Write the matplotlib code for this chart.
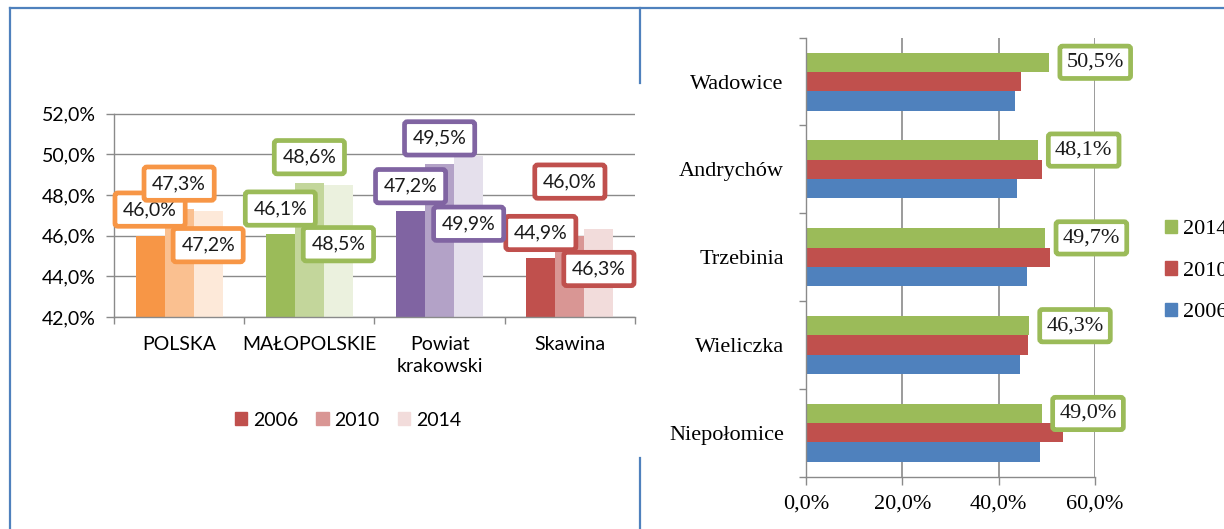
import matplotlib
matplotlib.use("Agg")
import matplotlib.pyplot as plt
from matplotlib.lines import Line2D
from matplotlib.patches import Patch
import numpy as np

# turnout by area, three elections
areas = ["POLSKA", "MAŁOPOLSKIE", "Powiat\nkrakowski", "Skawina"]
years = ["2006", "2010", "2014"]
area_2006 = [46.0, 46.1, 47.2, 44.9]
area_2010 = [47.3, 48.6, 49.5, 46.0]
area_2014 = [47.2, 48.5, 49.9, 46.3]
area_ticks = [42, 44, 46, 48, 50, 52]

# turnout in neighbouring towns
towns = ["Wadowice", "Andrychów", "Trzebinia", "Wieliczka", "Niepołomice"]
town_2006 = [43.3, 43.8, 45.8, 44.5, 48.6]
town_2010 = [44.6, 48.9, 50.6, 46.1, 53.4]
town_2014 = [50.5, 48.1, 49.7, 46.3, 49.0]
town_ticks = [0, 20, 40, 60]

# one colour family per area (dark -> light by year)
shades = [
    ["#F79646", "#FAC090", "#FDE9D9"],
    ["#9BBB59", "#C3D69B", "#EBF1DE"],
    ["#8064A2", "#B3A2C7", "#E5E0EC"],
    ["#C0504D", "#D99694", "#F2DCDB"],
]
# vertical label offsets in pixels from the bar top
label_dy = [
    [26, 25, 25, 25],
    [25.5, 25.5, 26, 54],
    [-34, -59.5, -67.5, -39.5],
]
GRID = "#8A8A8A"
BORDER = "#4F81BD"


def pct(v):
    return f"{v:.1f}%".replace(".", ",")


W, H = 1224, 529
fig = plt.figure(figsize=(W / 100, H / 100), dpi=100)

# ---- left: grouped columns ----
sans = "Lato"
fs = 14
ax = fig.add_axes([114 / W, 1 - 317 / H, (635 - 114) / W, (317 - 113.5) / H])
x = np.arange(len(areas))
bw = 0.223
series = [area_2006, area_2010, area_2014]
for k, vals in enumerate(series):
    xs = x + (k - 1) * bw
    cols = [shades[i][k] for i in range(len(areas))]
    ax.bar(xs, np.array(vals) - 42, bottom=42, width=bw, color=cols, zorder=2)
for k, vals in enumerate(series):
    xs = x + (k - 1) * bw
    for i, v in enumerate(vals):
        ax.annotate(pct(v), (xs[i], v), xytext=(0, label_dy[k][i]),
                    textcoords="offset pixels", ha="center", va="center",
                    fontsize=fs, family=sans, color="#1a1a1a", zorder=5 + k,
                    bbox=dict(boxstyle="round,pad=0.42,rounding_size=0.15",
                              fc="white", ec=shades[i][0], lw=3.4))

ax.set_xlim(-0.5, len(areas) - 0.5)
ax.set_ylim(42, 52)
ax.set_yticks(area_ticks)
ax.set_yticklabels([pct(t) for t in area_ticks], family=sans, fontsize=fs)
ax.set_xticks(x)
ax.set_xticklabels(areas, family=sans, fontsize=fs, linespacing=1.35)
ax.set_xticks(np.arange(-0.5, len(areas)), minor=True)
ax.tick_params(axis="x", which="major", length=0, pad=14)
ax.tick_params(axis="x", which="minor", length=5, color=GRID, width=1)
ax.tick_params(axis="y", length=6, color=GRID, width=1, pad=7)
ax.grid(axis="y", color=GRID, lw=1.0, zorder=0)
ax.set_axisbelow(True)
for s in ["top", "right"]:
    ax.spines[s].set_visible(False)
for s in ["left", "bottom"]:
    ax.spines[s].set_color(GRID)
    ax.spines[s].set_linewidth(1.0)

leg_handles = [Patch(color=shades[3][k]) for k in range(3)]
fig.legend(leg_handles, years, loc="center", bbox_to_anchor=(348 / W, 1 - 420 / H),
           ncol=3, frameon=False, prop=dict(family=sans, size=fs),
           handlelength=0.62, handleheight=0.62, handletextpad=0.3,
           columnspacing=0.95, borderpad=0)

# ---- right: horizontal bars ----
serif = "Liberation Serif"
fs2 = 16
bx = fig.add_axes([806 / W, 1 - 476.7 / H, (1095 - 806) / W, (476.7 - 37.7) / H])
y = np.arange(len(towns))
bh = 0.22
blue, red, green = "#4F81BD", "#C0504D", "#9BBB59"
bx.barh(y + bh, town_2006, height=bh, color=blue, zorder=2)
bx.barh(y, town_2010, height=bh, color=red, zorder=2)
bx.barh(y - bh, town_2014, height=bh, color=green, zorder=2)
for i, v in enumerate(town_2014):
    bx.annotate(pct(v), (v, y[i] - bh), xytext=(46, 0), textcoords="offset pixels",
                ha="center", va="center", fontsize=fs2, family=serif, color="#1a1a1a",
                zorder=6,
                bbox=dict(boxstyle="round,pad=0.3,rounding_size=0.12",
                          fc="white", ec=green, lw=3.4))

bx.set_ylim(len(towns) - 0.5, -0.5)
bx.set_xlim(0, 60)
bx.set_xticks(town_ticks)
bx.set_xticklabels([pct(t) for t in town_ticks], family=serif, fontsize=fs2)
bx.set_yticks(y)
bx.set_yticklabels(towns, family=serif, fontsize=fs2)
bx.set_yticks(np.arange(-0.5, len(towns)), minor=True)
bx.tick_params(axis="y", which="major", length=0, pad=16)
bx.tick_params(axis="y", which="minor", length=5, color=GRID, width=1)
bx.tick_params(axis="x", length=6, color=GRID, width=1, pad=7)
bx.grid(axis="x", color=GRID, lw=1.2, zorder=0)
bx.set_axisbelow(True)
for s in ["top", "right"]:
    bx.spines[s].set_visible(False)
for s in ["left", "bottom"]:
    bx.spines[s].set_color(GRID)
    bx.spines[s].set_linewidth(1.0)

# legend sits at the page edge, so its labels run off the right side
fig.legend([Patch(color=green), Patch(color=red), Patch(color=blue)],
           ["2014", "2010", "2006"], loc="center left",
           bbox_to_anchor=(1165 / W, 1 - 271 / H), frameon=False,
           prop=dict(family=serif, size=fs2), handlelength=0.55, handleheight=0.55,
           handletextpad=0.25, labelspacing=0.98, borderpad=0, borderaxespad=0)

# page frame lines around the two charts
def frame(x0, y0, x1, y1):
    fig.add_artist(Line2D([x0 / W, x1 / W], [1 - y0 / H, 1 - y1 / H],
                          color=BORDER, lw=1.6, transform=fig.transFigure))


frame(10, 8, W, 8)
frame(10, 8, 10, H)
frame(640, 8, 640, 83)
frame(640, 458, 640, H)

fig.savefig("out.png", dpi=100)
